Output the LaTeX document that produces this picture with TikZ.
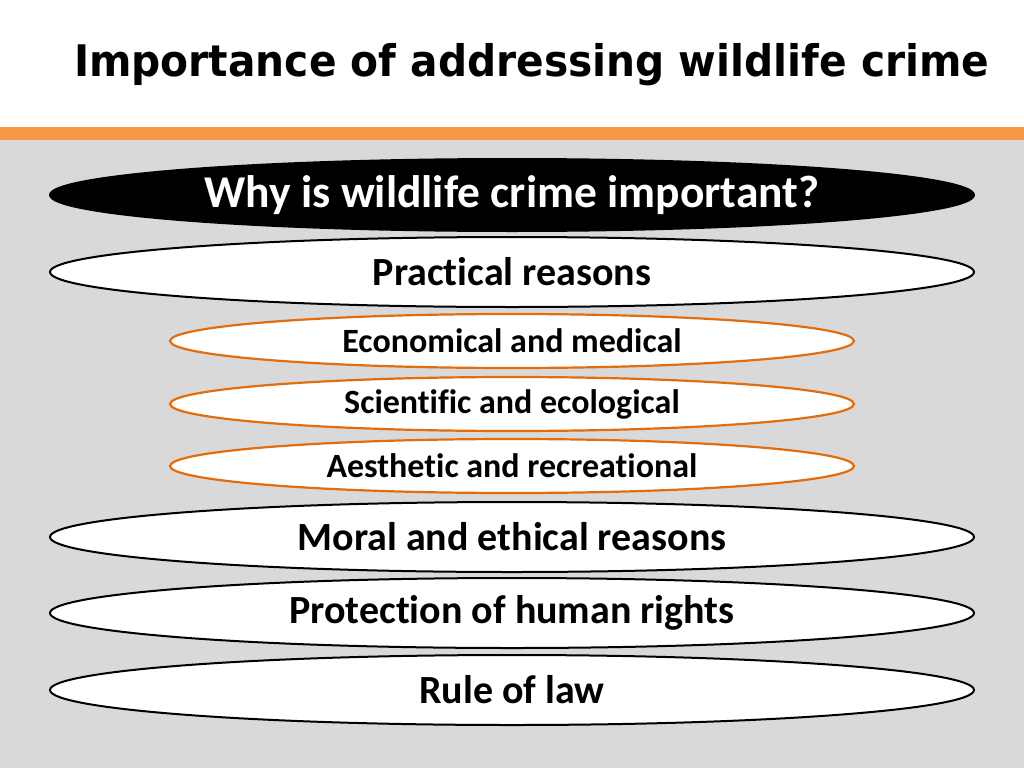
\documentclass[tikz,border=0pt]{standalone}
\usepackage{fontspec}
\setmainfont{Carlito}[RawFeature=-liga]
\newfontfamily\titlefont{DejaVu Sans}
\usetikzlibrary{shapes.geometric}
\definecolor{barorange}{HTML}{F79646}
\definecolor{lineorange}{HTML}{E46C0A}
\definecolor{bggrey}{HTML}{D9D9D9}
\tikzset{
  big/.style={ellipse, draw=black, line width=2pt, fill=white, minimum width=924pt, minimum height=70pt, inner sep=0pt},
  small/.style={ellipse, draw=lineorange, line width=2.2pt, fill=white, minimum width=684pt, minimum height=54pt, inner sep=0pt},
  bigtext/.style={font=\bfseries\fontsize{40}{48}\selectfont},
  smalltext/.style={font=\bfseries\fontsize{34}{40}\selectfont},
}
\begin{document}
\begin{tikzpicture}[x=1pt,y=-1pt]
\useasboundingbox (0,0) rectangle (1024,768);
\fill[white] (0,0) rectangle (1024,127);
\fill[barorange] (0,127) rectangle (1024,140);
\fill[bggrey] (0,140) rectangle (1024,768);
\node[anchor=west, inner sep=0pt, font=\titlefont\bfseries\fontsize{43.5}{50}\selectfont] (title) at (74,65) {\scalebox{0.936}[1]{Importance of addressing wildlife crime}};
\node[big, fill=black, minimum height=72pt, font=\bfseries\fontsize{45.5}{54}\selectfont, text=white] (q) at (512,195) {Why is wildlife crime important?};
\node[big, bigtext] (p) at (512,272) {Practical reasons};
\node[small, smalltext] (e) at (512,341) {Economical and medical};
\node[small, smalltext] (s) at (512,404) {Scientific and ecological};
\node[small, smalltext] (a) at (512,466) {Aesthetic and recreational};
\node[big, bigtext] (m) at (512,537) {Moral and ethical reasons};
\node[big, bigtext] (h) at (512,613) {Protection of human rights};
\node[big, bigtext] (r) at (512,690) {Rule of law};
\end{tikzpicture}
\end{document}
